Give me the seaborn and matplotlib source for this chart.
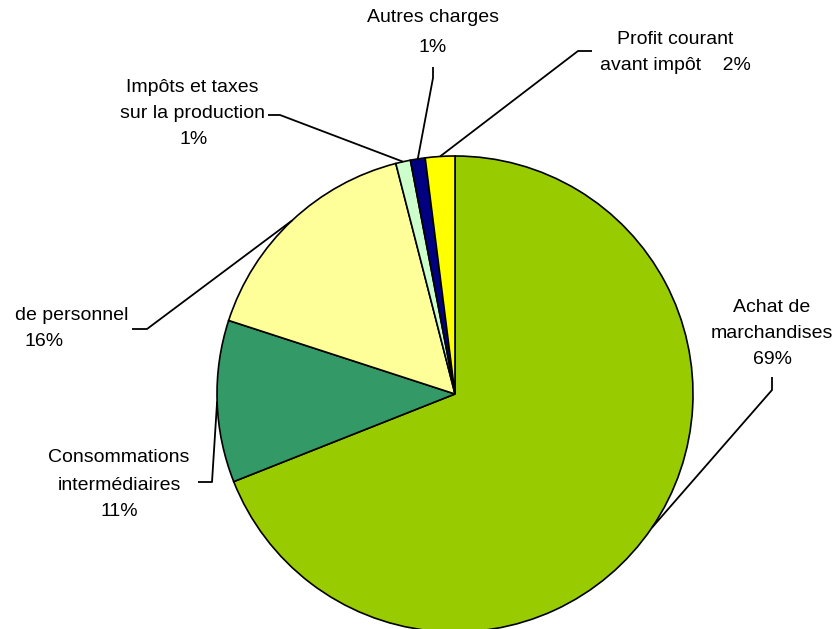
import numpy as np
import matplotlib
matplotlib.use("Agg")
import matplotlib.pyplot as plt
import seaborn as sns

# ---- data ----
categories = ["Achat de marchandises", "Consommations intermédiaires",
              "Charges de personnel", "Impôts et taxes sur la production",
              "Autres charges", "Profit courant avant impôt"]
values = [69, 11, 16, 1, 1, 2]
label_texts = [["Achat de", "marchandises", "69%"],
               ["Consommations", "intermédiaires", "11%"],
               ["de personnel", "16%"],
               ["Impôts et taxes", "sur la production", "1%"],
               ["Autres charges", "1%"],
               ["Profit courant", "avant impôt    2%"]]
colors = ["#99CC00", "#339966", "#FFFF99", "#CCFFCC", "#000080", "#FFFF00"]

sns.set_theme(style="white")
plt.rcParams['font.family'] = ['Liberation Sans', 'DejaVu Sans']

W, H = 840, 629
fig = plt.figure(figsize=(8.4, 6.29), dpi=100)
ax = fig.add_axes([0, 0, 1, 1])

cx, cy, R = 455, H - 394, 238
wedges, _ = ax.pie(values, colors=colors, startangle=90, counterclock=False,
                   center=(cx, cy), radius=R, frame=True,
                   wedgeprops=dict(edgecolor='black', linewidth=1.2))
ax.set_xlim(0, W)
ax.set_ylim(0, H)
ax.set_aspect('equal')
ax.axis('off')

# layout: leader elbow points and label line positions (pixel coords from top)
elbows = [[(772, 390), (772, 377)],
          [(212, 482), (198, 482)],
          [(147, 329), (132, 329)],
          [(280, 115), (268, 115)],
          [(433, 78), (433, 67)],
          [(578, 51), (592, 51)]]
line_pos = [[(772, 307), (772, 333), (772, 359)],
            [(119, 457), (119, 485), (119, 511)],
            [(72, 315), (44, 342)],
            [(192, 87), (192, 113), (194, 140)],
            [(433, 18), (433, 48)],
            [(675, 39), (675, 66)]]

for w, el, texts, pos in zip(wedges, elbows, label_texts, line_pos):
    mid = np.deg2rad((w.theta1 + w.theta2) / 2)
    ax_x = cx + R * np.cos(mid)
    ax_y = cy + R * np.sin(mid)
    xs = [ax_x] + [p[0] for p in el]
    ys = [ax_y] + [H - p[1] for p in el]
    ax.plot(xs, ys, color='black', lw=1.3, solid_capstyle='butt')
    for t, (px, py) in zip(texts, pos):
        ax.text(px, H - py, t, ha='center', va='center', fontsize=14, color='black')

fig.savefig("out.png", dpi=100, facecolor='white')
